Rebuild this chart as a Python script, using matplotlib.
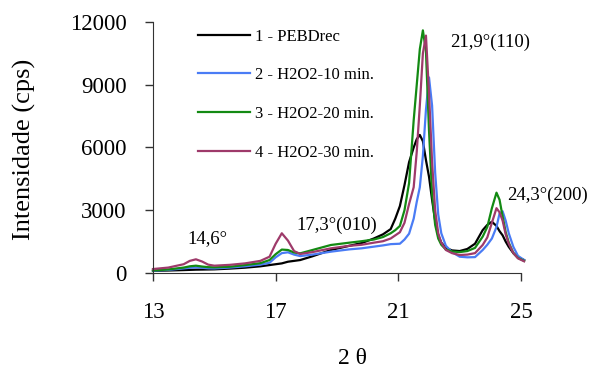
import matplotlib
matplotlib.use("Agg")
from matplotlib import pyplot as plt

plt.rcParams['font.family'] = ['Liberation Serif', 'DejaVu Serif']

# 2-theta grid shared by all diffractograms
two_theta = [13.0, 13.5, 14.0, 14.2, 14.4, 14.6, 14.8, 15.0, 15.5, 16.0, 16.5, 16.8,
             17.0, 17.2, 17.4, 17.6, 17.8, 18.2, 18.8, 19.4, 19.8, 20.2, 20.5, 20.75,
             20.9, 21.05, 21.2, 21.35, 21.5, 21.6, 21.7, 21.8, 21.9, 22.0, 22.1, 22.2,
             22.3, 22.4, 22.55, 22.75, 23.0, 23.25, 23.5, 23.75, 23.9, 24.05, 24.2, 24.3,
             24.4, 24.5, 24.6, 24.75, 24.9, 25.1]

pebd_rec = [100, 120, 140, 150, 160, 165, 170, 175, 210, 255, 320, 380,
            420, 460, 540, 580, 620, 800, 1100, 1300, 1430, 1650, 1850, 2100,
            2600, 3200, 4200, 5300, 6000, 6400, 6600, 6300, 5400, 4600, 3500, 2500,
            1800, 1450, 1200, 1080, 1050, 1150, 1400, 2050, 2300, 2450, 2250, 2000,
            1800, 1500, 1250, 950, 760, 620]

h2o2_10 = [110, 150, 220, 250, 270, 250, 225, 220, 260, 320, 400, 490,
           750, 950, 990, 880, 810, 880, 1020, 1130, 1180, 1260, 1320, 1380,
           1390, 1400, 1600, 1880, 2600, 3400, 4100, 5600, 7800, 9350, 8000, 4800,
           2800, 1900, 1300, 1000, 780, 750, 760, 1100, 1350, 1650, 2200, 2850,
           2950, 2500, 1900, 1250, 820, 620]

h2o2_20 = [120, 170, 260, 320, 350, 310, 280, 270, 300, 380, 470, 620,
           900, 1120, 1100, 980, 940, 1100, 1340, 1450, 1520, 1600, 1720, 1900,
           2050, 2250, 3000, 4300, 7300, 9000, 10700, 11600, 10600, 6800, 3800, 2300,
           1650, 1350, 1120, 1030, 1000, 1050, 1200, 1740, 2200, 3100, 3840, 3500,
           2700, 1950, 1450, 950, 720, 580]

h2o2_30 = [190, 260, 420, 580, 655, 550, 400, 350, 390, 460, 580, 780,
           1400, 1900, 1550, 1050, 910, 1000, 1180, 1300, 1350, 1450, 1520, 1650,
           1800, 1950, 2400, 3300, 4100, 5800, 8000, 10500, 11350, 8600, 5300, 3000,
           1900, 1450, 1100, 950, 860, 880, 950, 1340, 1700, 2400, 3100, 2900,
           2500, 1850, 1400, 950, 700, 560]

series = [
    ("1 - PEBDrec", pebd_rec, "black"),
    ("2 - H2O2-10 min.", h2o2_10, "#4a7cf5"),
    ("3 - H2O2-20 min.", h2o2_20, "#138a13"),
    ("4 - H2O2-30 min.", h2o2_30, "#9e3a6a"),
]

# peak labels: text, x, y
peaks = [
    ("14,6°", 14.78, 1625),
    ("17,3°(010)", 19.0, 2290),
    ("21,9°(110)", 23.99, 11040),
    ("24,3°(200)", 25.85, 3730),
]

fig = plt.figure(figsize=(5.9, 3.72), dpi=100)
ax = fig.add_axes([0.2593, 0.2661, 0.6238, 0.6748])

for label, values, color in series:
    ax.plot(two_theta, values, color=color, lw=1.6, label=label, clip_on=False)

ax.set_xlim(13, 25)
ax.set_ylim(0, 12000)
ax.set_xticks([13, 17, 21, 25])
ax.set_yticks([0, 3000, 6000, 9000, 12000])
for side in ("top", "right"):
    ax.spines[side].set_visible(False)
for side in ("left", "bottom"):
    ax.spines[side].set_color("#333333")
ax.tick_params(direction="out", length=6, width=1, colors="#333333",
               labelcolor="black", labelsize=16.5)
ax.tick_params(axis="y", pad=13)
ax.tick_params(axis="x", pad=15)

fig.text(0.042, 0.5995, "Intensidade (cps)", fontsize=19, rotation=90,
         ha="center", va="center")
fig.text(0.597, 0.008, "2 θ", fontsize=17, ha="center", va="bottom")

for text, x, y in peaks:
    ax.text(x, y, text, fontsize=13.5, ha="center", va="center")

ax.legend(frameon=False, fontsize=12, loc="upper left",
          bbox_to_anchor=(0.105, 1.0), handlelength=3.1, handletextpad=0.3,
          labelspacing=1.36, borderaxespad=0)

fig.savefig("out.png", dpi=100)
